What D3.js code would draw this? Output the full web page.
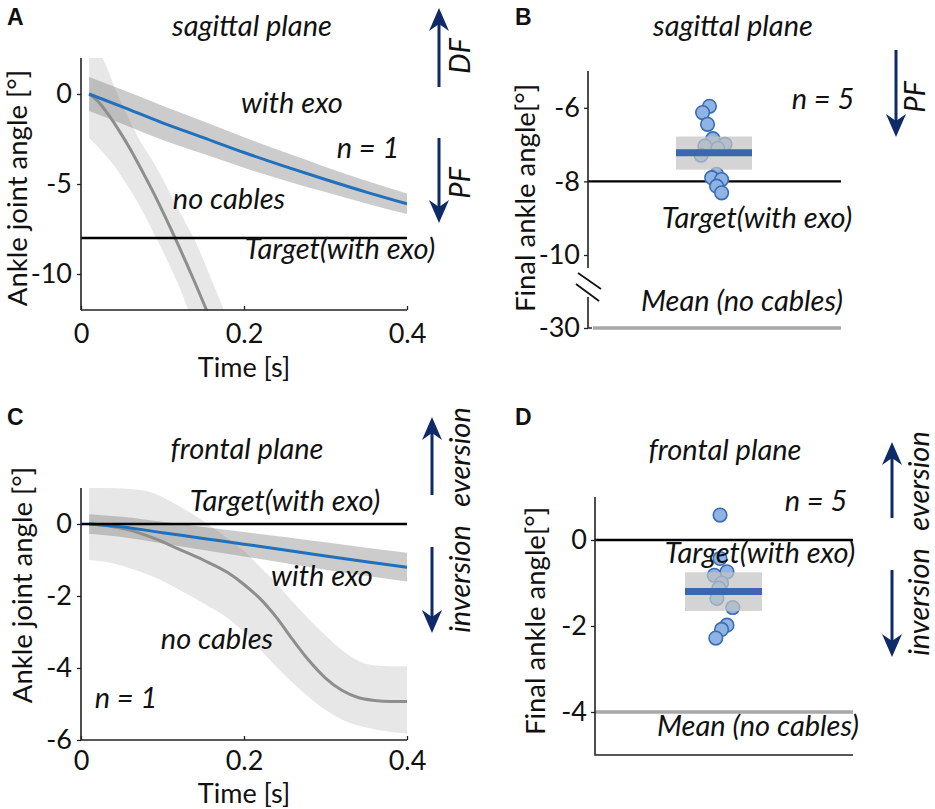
<!DOCTYPE html>
<html><head><meta charset="utf-8">
<script src="https://cdn.jsdelivr.net/npm/d3@7"></script>
<style>
body{margin:0;background:#fff}
svg{display:block}
text{font-family:Lato,"Open Sans",sans-serif;fill:#111}
.it{font-style:italic}
</style>
</head><body>
<svg id="c" width="935" height="809"></svg>
<script>
// ---------------- DATA ----------------
// Panel A: sagittal plane, time series (deg)
const timeExoA   = [0.01, 0.05, 0.10, 0.15, 0.20, 0.25, 0.30, 0.35, 0.40];
const meanExoA   = [0, -0.70, -1.60, -2.42, -3.25, -4.02, -4.75, -5.45, -6.10];
const sdExoA     = [0.95, 0.95, 0.95, 0.90, 0.85, 0.78, 0.70, 0.63, 0.57];
const timeNoCabA = [0.01,0.02,0.03,0.04,0.05,0.06,0.07,0.08,0.09,0.10,0.11,0.12,0.13,0.14,0.15,0.16,0.17,0.18];
const meanNoCabA = [0,-0.37,-0.92,-1.56,-2.27,-3.03,-3.85,-4.70,-5.58,-6.51,-7.47,-8.45,-9.47,-10.5,-11.57,-12.65,-13.8,-15.0];
const upNoCabA   = [2.6,2.4,1.65,0.52,-0.55,-1.5,-2.4,-3.15,-3.88,-4.7,-5.6,-6.45,-7.3,-8.15,-9.2,-10.3,-11.4,-12.6];
const loNoCabA   = [-2.45,-2.9,-3.4,-3.95,-4.6,-5.3,-6.05,-6.9,-7.8,-8.7,-9.65,-10.65,-11.8,-13.0,-14.2,-15.4,-16.6,-17.8];
const targetA = -8;

// Panel C: frontal plane, time series (deg)
const timeExoC   = [0.01, 0.05, 0.10, 0.15, 0.20, 0.25, 0.30, 0.35, 0.40];
const meanExoC   = [0, -0.08, -0.24, -0.40, -0.56, -0.72, -0.89, -1.05, -1.20];
const sdExoC     = [0.27, 0.28, 0.30, 0.32, 0.34, 0.36, 0.38, 0.39, 0.40];
const timeNoCabC = [0.01,0.03,0.06,0.09,0.12,0.15,0.18,0.20,0.22,0.24,0.26,0.28,0.30,0.32,0.34,0.36,0.38,0.40];
const meanNoCabC = [0,-0.04,-0.17,-0.40,-0.70,-1.00,-1.35,-1.68,-2.08,-2.60,-3.22,-3.80,-4.28,-4.62,-4.82,-4.90,-4.93,-4.93];
const upNoCabC   = [1.0,1.0,0.97,0.85,0.5,0.08,-0.4,-0.75,-1.2,-1.65,-2.17,-2.65,-3.1,-3.5,-3.8,-3.93,-3.95,-3.95];
const loNoCabC   = [-1.0,-1.05,-1.23,-1.48,-1.82,-2.2,-2.62,-3.0,-3.5,-3.97,-4.42,-4.82,-5.17,-5.43,-5.6,-5.7,-5.78,-5.82];
const targetC = 0;

// Panel B: final angle, sagittal (n = 5)
const jitterB = [-0.12,-0.30,-0.17,-0.03,-0.24,0.29,-0.34,0.10,0.07,-0.06,0.20,0.07,0.20];
const finalB  = [-5.96,-6.13,-6.45,-6.84,-7.04,-6.99,-7.29,-7.10,-7.81,-7.90,-7.95,-8.13,-8.31];
const meanB = -7.22, bandLoB = -7.68, bandHiB = -6.78;
const targetB = -8, noCabMeanB = -30;
const ticksB = [-30, -10, -8, -6];

// Panel D: final angle, frontal (n = 5)
const jitterD = [-0.09,-0.09,0.09,-0.24,-0.05,-0.12,-0.17,0.24,0.09,-0.05,-0.20];
const finalD  = [0.58,-0.43,-0.74,-0.82,-1.00,-1.12,-1.36,-1.57,-1.98,-2.08,-2.28];
const meanD = -1.20, bandLoD = -1.65, bandHiD = -0.75;
const targetD = 0, noCabMeanD = -4;
const ticksD = [0, -2, -4];

const timeTicks = [0, 0.2, 0.4];
const ticksA = [0, -5, -10];
const ticksC = [0, -2, -4, -6];

// ---------------- STYLE ----------------
const BLUE = "#1f70bd", GREY = "#8e8e8e", NAVY = "#0f2a68";
const DOT_FILL = "#8fb4e3", DOT_STROKE = "#3a6cb5", MEAN_BLUE = "#3d66ae";
const TICK_FS = 27, TXT_FS = 29, YLAB_FS = 27.5;

const svg = d3.select("#c");

function zip(t, v){ return t.map((d,i)=>({t:d, v:v[i]})); }
const fmtInt = d => String(d);

function styleAxis(g){
  g.selectAll("text").style("font-size", TICK_FS+"px").style("fill","#111");
  g.selectAll("line").attr("stroke","#222").attr("stroke-width",1.3);
  g.select(".domain").remove();
}

function arrow(x, yFrom, yTip){
  const d = Math.sign(yTip - yFrom);
  svg.append("line").attr("x1",x).attr("x2",x).attr("y1",yFrom).attr("y2",yTip - d*14)
    .attr("stroke",NAVY).attr("stroke-width",3);
  svg.append("path")
    .attr("d",`M${x},${yTip} L${x+10},${yTip-d*23} L${x},${yTip-d*16} L${x-10},${yTip-d*23} Z`)
    .attr("fill",NAVY);
}
function rotText(x, y, s){
  svg.append("text").attr("class","it").attr("transform",`translate(${x},${y}) rotate(-90)`)
    .attr("text-anchor","middle").style("font-size",TXT_FS+"px").text(s);
}
function label(x, y, s){
  return svg.append("text").attr("class","it").attr("x",x).attr("y",y)
    .attr("text-anchor","middle").style("font-size",TXT_FS+"px").text(s);
}
function plainLabel(x, y, s){
  return svg.append("text").attr("x",x).attr("y",y)
    .attr("text-anchor","middle").style("font-size",TICK_FS+"px").text(s);
}
function panelLetter(x,y,s){
  svg.append("text").attr("x",x).attr("y",y).style("font-family","Liberation Sans, Arial")
    .style("font-weight","bold").style("font-size","23px").text(s);
}
function yLabel(x, y, s){
  svg.append("text").attr("transform",`translate(${x},${y}) rotate(-90)`)
    .attr("text-anchor","middle").style("font-size",YLAB_FS+"px").text(s);
}

// ---------- time-series panel ----------
function timePanel(id, L, R, T, B, yDom, yTicks, exo, noCab, target, xPad){
  const x = d3.scaleLinear().domain([0,0.4]).range([L,R]);
  const y = d3.scaleLinear().domain(yDom).range([B,T]);
  svg.append("clipPath").attr("id",id).append("rect").attr("x",L).attr("y",T).attr("width",R-L).attr("height",B-T);
  const g = svg.append("g").attr("clip-path",`url(#${id})`);
  const area = d3.area().x(d=>x(d.t)).y0(d=>y(d.lo)).y1(d=>y(d.hi)).curve(d3.curveMonotoneX);
  const line = d3.line().x(d=>x(d.t)).y(d=>y(d.v)).curve(d3.curveMonotoneX);
  const nb = noCab.t.map((t,i)=>({t, lo:noCab.lo[i], hi:noCab.hi[i]}));
  const eb = exo.t.map((t,i)=>({t, lo:exo.m[i]-exo.sd[i], hi:exo.m[i]+exo.sd[i]}));
  g.append("path").datum(nb).attr("d",area).attr("fill","#9a9a9a").attr("fill-opacity",0.24);
  g.append("path").datum(eb).attr("d",area).attr("fill","#7a7a7a").attr("fill-opacity",0.38);
  svg.append("line").attr("x1",L).attr("x2",R).attr("y1",y(target)).attr("y2",y(target))
    .attr("stroke","#000").attr("stroke-width",2.4);
  g.append("path").datum(zip(noCab.t,noCab.m)).attr("d",line).attr("fill","none").attr("stroke",GREY).attr("stroke-width",3);
  g.append("path").datum(zip(exo.t,exo.m)).attr("d",line).attr("fill","none").attr("stroke",BLUE).attr("stroke-width",3);
  svg.append("line").attr("x1",L).attr("x2",L).attr("y1",T).attr("y2",B).attr("stroke","#222").attr("stroke-width",1.6);
  svg.append("line").attr("x1",L).attr("x2",R).attr("y1",B).attr("y2",B).attr("stroke","#222").attr("stroke-width",1.6);
  svg.append("g").attr("transform",`translate(${L},0)`)
    .call(d3.axisLeft(y).tickValues(yTicks).tickSize(4).tickPadding(5).tickSizeOuter(0).tickFormat(fmtInt))
    .call(styleAxis);
  svg.append("g").attr("transform",`translate(0,${B})`)
    .call(d3.axisBottom(x).tickValues(timeTicks).tickSize(-4).tickPadding(xPad).tickSizeOuter(0).tickFormat(d=>d===0?"0":d3.format(".1f")(d)))
    .call(styleAxis);
  return {x,y};
}

// Panel A
timePanel("clipA", 81, 407, 58, 310, [-12,2], ticksA,
  {t:timeExoA, m:meanExoA, sd:sdExoA}, {t:timeNoCabA, m:meanNoCabA, lo:loNoCabA, hi:upNoCabA}, targetA, 14);
panelLetter(7,25,"A");
label(252,36,"sagittal plane");
label(292,113,"with exo");
label(368,158,"n = 1");
label(229,209,"no cables");
label(340,259,"Target(with exo)");
yLabel(27,188,"Ankle joint angle [°]");
plainLabel(244,377,"Time [s]");
arrow(439, 87, 8);  arrow(439, 138, 223);
rotText(470, 56, "DF"); rotText(470, 183, "PF");

// Panel C
timePanel("clipC", 81, 407, 488, 740, [-6,1], ticksC,
  {t:timeExoC, m:meanExoC, sd:sdExoC}, {t:timeNoCabC, m:meanNoCabC, lo:loNoCabC, hi:upNoCabC}, targetC, 11);
panelLetter(7,425,"C");
label(247,459,"frontal plane");
label(285,511,"Target(with exo)");
label(322,586,"with exo");
label(217,649,"no cables");
label(126,708,"n = 1");
yLabel(32,585,"Ankle joint angle [°]");
plainLabel(244,803,"Time [s]");
arrow(432, 495, 417); arrow(432, 547, 633);
rotText(470, 457, "eversion"); rotText(470, 579, "inversion");

// ---------- final-angle panels ----------
function finalPanel(L, xRange, y, lineL, lineR, target, noCab, jit, vals, mean, lo, hi, ticks){
  const x = d3.scaleLinear().domain([-1,1]).range(xRange);
  svg.append("line").attr("x1",L).attr("x2",lineR).attr("y1",y(target)).attr("y2",y(target))
    .attr("stroke","#000").attr("stroke-width",2.4);
  svg.append("line").attr("x1",lineL).attr("x2",lineR).attr("y1",y(noCab)).attr("y2",y(noCab))
    .attr("stroke","#a8a8a8").attr("stroke-width",3.5);
  svg.append("g").selectAll("circle").data(vals.map((v,i)=>({j:jit[i],v}))).join("circle")
    .attr("cx",d=>x(d.j)).attr("cy",d=>y(d.v)).attr("r",6.8)
    .attr("fill",DOT_FILL).attr("stroke",DOT_STROKE).attr("stroke-width",1.6);
  svg.append("rect").attr("x",x(-1)).attr("width",x(1)-x(-1)).attr("y",y(hi)).attr("height",y(lo)-y(hi))
    .attr("fill","#c4c4c4").attr("fill-opacity",0.72);
  svg.append("line").attr("x1",x(-1)).attr("x2",x(1)).attr("y1",y(mean)).attr("y2",y(mean))
    .attr("stroke",MEAN_BLUE).attr("stroke-width",7);
  svg.append("g").attr("transform",`translate(${L},0)`)
    .call(d3.axisLeft(y).tickValues(ticks).tickSize(4).tickPadding(4).tickSizeOuter(0).tickFormat(fmtInt))
    .call(styleAxis);
  return x;
}

// Panel B
const yB = d3.scaleLinear().domain([-30,-10,-5]).range([328,255,71]);
finalPanel(588, [676,752], yB, 593, 841, targetB, noCabMeanB, jitterB, finalB, meanB, bandLoB, bandHiB, ticksB);
svg.append("path").attr("d",`M588,71 V268 M588,297 V328 H592`).attr("fill","none").attr("stroke","#222").attr("stroke-width",1.6);
svg.append("line").attr("x1",578).attr("y1",273).attr("x2",601).attr("y2",289).attr("stroke","#111").attr("stroke-width",1.8);
svg.append("line").attr("x1",576).attr("y1",284).attr("x2",599).attr("y2",301).attr("stroke","#111").attr("stroke-width",1.8);
panelLetter(515,25,"B");
label(733,36,"sagittal plane");
label(823,109,"n = 5");
label(757,228,"Target(with exo)");
label(742,311,"Mean (no cables)");
yLabel(535,198,"Final ankle angle[°]");
arrow(896, 50, 137);
rotText(925, 97, "PF");

// Panel D
const yD = d3.scaleLinear().domain([-5,1]).range([755,497]);
finalPanel(595, [685,762], yD, 595, 853, targetD, noCabMeanD, jitterD, finalD, meanD, bandLoD, bandHiD, ticksD);
svg.append("path").attr("d",`M595,497 V755 H853`).attr("fill","none").attr("stroke","#222").attr("stroke-width",1.6);
panelLetter(515,425,"D");
label(725,460,"frontal plane");
label(816,511,"n = 5");
label(760,563,"Target(with exo)");
label(758,736,"Mean (no cables)");
yLabel(545,621,"Final ankle angle[°]");
arrow(892, 518, 442); arrow(892, 570, 657);
rotText(929, 481, "eversion"); rotText(929, 602, "inversion");
</script>
</body></html>
